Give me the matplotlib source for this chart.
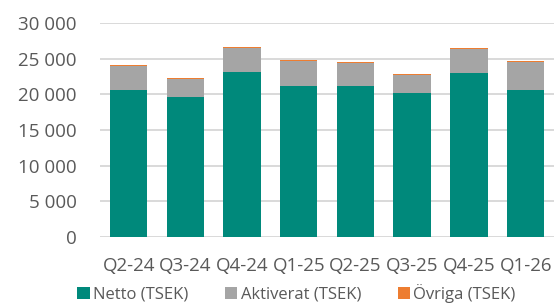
import matplotlib
matplotlib.use("Agg")
import matplotlib.pyplot as plt
from matplotlib.ticker import FuncFormatter
import numpy as np

# values (TSEK)
quarters = ["Q2-24", "Q3-24", "Q4-24", "Q1-25", "Q2-25", "Q3-25", "Q4-25", "Q1-26"]
netto = [20600, 19600, 23100, 21150, 21150, 20200, 22950, 20650]
aktiverat = [3400, 2550, 3400, 3500, 3200, 2500, 3350, 3850]
ovriga = [130, 130, 150, 130, 130, 130, 220, 130]

teal = "#00897B"
grey = "#A5A5A5"
orange = "#ED7D31"
text_col = "#595959"

plt.rcParams["font.family"] = ["Open Sans", "DejaVu Sans"]

fig = plt.figure(figsize=(5.54, 3.04), dpi=100)
ax = fig.add_axes([0.181, 0.22, 0.819, 0.705])

x = np.arange(len(quarters))
w = 0.66
bottom2 = np.array(netto) + np.array(aktiverat)
ax.bar(x, netto, w, color=teal, label="Netto (TSEK)", zorder=3)
ax.bar(x, aktiverat, w, bottom=netto, color=grey, label="Aktiverat (TSEK)", zorder=3)
ax.bar(x, ovriga, w, bottom=bottom2, color=orange, label="Övriga (TSEK)", zorder=3)

ax.set_ylim(0, 30000)
ax.set_xlim(-0.5, len(quarters) - 0.5)
ax.set_yticks(range(0, 30001, 5000))
ax.yaxis.set_major_formatter(FuncFormatter(lambda v, p: f"{int(v):,}".replace(",", " ")))
ax.set_xticks(x)
ax.set_xticklabels(quarters)
ax.grid(axis="y", color="#D9D9D9", linewidth=1.4, zorder=0)
for s in ax.spines.values():
    s.set_visible(False)
ax.tick_params(axis="both", length=0, labelsize=13.5, colors=text_col)
ax.tick_params(axis="y", pad=17)
ax.tick_params(axis="x", pad=14)

leg = fig.legend(loc="lower center", bbox_to_anchor=(0.535, -0.045), ncol=3, frameon=False,
                 fontsize=12, handlelength=0.75, handleheight=0.75, handletextpad=0.2,
                 columnspacing=2.2)
for t in leg.get_texts():
    t.set_color(text_col)

fig.savefig("out.png", dpi=100)
